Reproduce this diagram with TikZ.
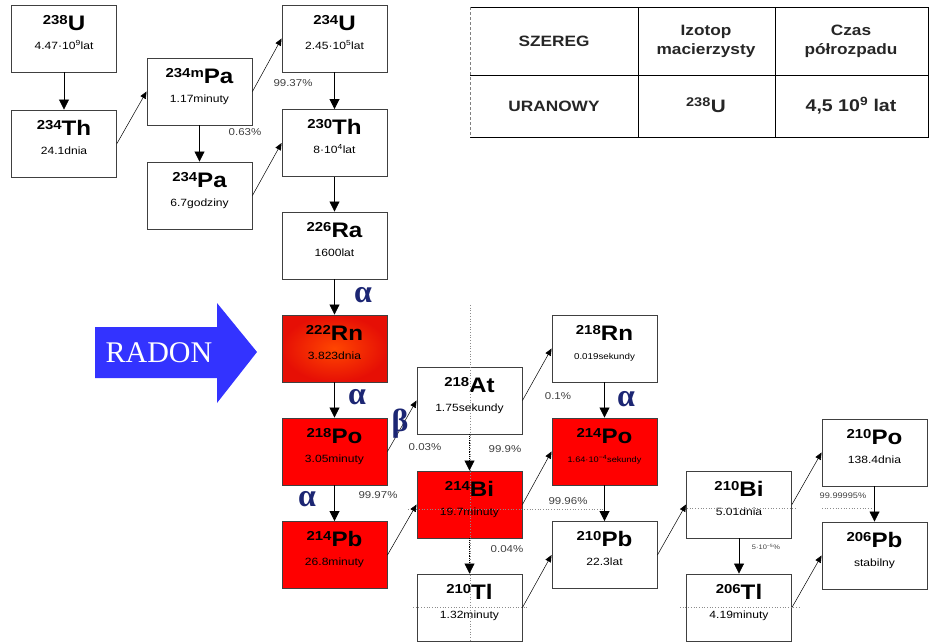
\documentclass[tikz,border=0pt]{standalone}
\usepackage{fontspec}
\setmainfont{Liberation Sans}[FakeStretch=1.15]
\newfontfamily\radonfont{Liberation Serif}
\usetikzlibrary{arrows.meta}
\definecolor{radonblue}{RGB}{51,51,255}
\definecolor{alphablue}{RGB}{28,38,115}
\definecolor{boxred}{RGB}{255,0,0}
\definecolor{rnin}{RGB}{255,70,0}
\definecolor{rnout}{RGB}{230,15,5}
\newcommand*{\xMax}{930}
\newcommand*{\yMax}{641}
\newcommand{\nuc}[3]{{\fontsize{13}{13}\selectfont\bfseries\raisebox{6pt}{#1}}{\fontsize{21}{21}\selectfont\bfseries #2}\\[7pt]#3}
\tikzset{
  box/.style={draw=black!75,line width=0.9pt,fill=white,minimum width=105pt,minimum height=67pt,
    inner sep=0pt,align=center,font=\fontsize{10.5}{12}\selectfont,text depth=13pt},
  redbox/.style={box,fill=boxred},
  rnbox/.style={box,inner color=rnin,outer color=rnout},
  vto/.style={-{Triangle[width=10pt,length=10pt]},line width=0.8pt},
  dto/.style={-{Triangle[width=6pt,length=7pt]},line width=0.5pt},
  pct/.style={font=\fontsize{10}{10}\selectfont,text=black!75,inner sep=0pt},
  dec/.style={font=\radonfont\bfseries\fontsize{32}{32}\selectfont,text=alphablue,inner sep=0pt},
  guide/.style={black!45,dotted,line width=0.7pt},
  cell/.style={font=\fontsize{15}{19}\selectfont\bfseries,align=center,text=black!85}
}
\begin{document}
\begin{tikzpicture}[x=1pt,y=-1pt]
\useasboundingbox (0,0) rectangle (\xMax,\yMax);
\clip (0,0) rectangle (\xMax,\yMax);

% tabela
\draw[line width=1pt] (470,7) -- (928,7) -- (928,137) -- (470,137);
\draw[black!50,densely dashed] (470,7) -- (470,137);
\draw[line width=1pt] (638,7) -- (638,137) (775,7) -- (775,137) (470,75) -- (928,75);
\node[cell] (szereg) at (554,41) {SZEREG};
\node[cell] (izotop) at (706,41) {Izotop\\macierzysty};
\node[cell] (czas) at (851,41) {Czas\\półrozpadu};
\node[cell] (uranowy) at (554,106) {URANOWY};
\node[cell,font=\fontsize{18}{18}\selectfont\bfseries] (u238t) at (706,105) {\textsuperscript{238}U};
\node[cell,font=\fontsize{17}{17}\selectfont\bfseries] (tpol) at (851,106) {4,5 10\textsuperscript{9} lat};

% strzalka RADON
\fill[radonblue] (95,327) -- (217,327) -- (217,303) -- (257,352) -- (217,403) -- (217,378) -- (95,378) -- cycle;
\node[text=white,font=\radonfont\fontsize{30}{30}\selectfont] (radon) at (159,353) {RADON};

% izotopy
\foreach \nm/\x/\y/\st/\m/\el/\t in {
    U238/64/38.5/box/238/U/{4.47·10\textsuperscript{9}lat},
    Th234/64/143.5/box/234/Th/{24.1dnia},
    Pa234m/199.5/91.5/box/234m/Pa/{1.17minuty},
    Pa234/199.5/195.5/box/234/Pa/{6.7godziny},
    U234/334.5/38.5/box/234/U/{2.45·10\textsuperscript{5}lat},
    Th230/334.5/143/box/230/Th/{8·10\textsuperscript{4}lat},
    Ra226/334.5/245.5/box/226/Ra/{1600lat},
    Rn222/334.5/348.5/rnbox/222/Rn/{3.823dnia},
    Po218/334.5/451.5/redbox/218/Po/{3.05minuty},
    Pb214/334.5/555/redbox/214/Pb/{26.8minuty},
    At218/469.5/400.5/box/218/At/{1.75sekundy},
    Bi214/469.5/504.5/redbox/214/Bi/{19.7minuty},
    Tl210/469.5/607.5/box/210/Tl/{1.32minuty},
    Rn218/604.5/348.5/box/218/Rn/{\fontsize{8.5}{8.5}\selectfont 0.019sekundy},
    Po214/604.5/451.5/redbox/214/Po/{\fontsize{8}{8}\selectfont 1.64·10\textsuperscript{−4}sekundy},
    Pb210/604.5/555/box/210/Pb/{22.3lat},
    Bi210/739/504.5/box/210/Bi/{5.01dnia},
    Tl206/739/607.5/box/206/Tl/{4.19minuty},
    Po210/874.5/452.5/box/210/Po/{138.4dnia},
    Pb206/874.5/555.5/box/206/Pb/{stabilny}}
  \node[\st] (\nm) at (\x,\y) {\nuc{\m}{\el}{\t}};

% linie pomocnicze
\draw[guide] (470,305) -- (470,641);
\draw[guide] (408,509) -- (603,509);
\draw[guide] (687,508) -- (797,508) (822,508) -- (873,508);
\draw[guide] (413,607) -- (527,607) (680,607) -- (800,607);

% rozpady pionowe
\foreach \a/\b in {U238/Th234,Pa234m/Pa234,U234/Th230,Th230/Ra226,Ra226/Rn222,Rn222/Po218,
    Po218/Pb214,Rn218/Po214,Po214/Pb210,Bi210/Tl206,Po210/Pb206}
  \draw[vto] (\a.south) -- (\b.north);
\draw[vto,densely dotted] (At218.south) -- (Bi214.north);
\draw[vto,densely dotted] (Bi214.south) -- (Tl210.north);

% rozpady ukosne
\foreach \a/\b in {Th234/Pa234m,Pa234m/U234,Pa234/Th230,Po218/At218,Pb214/Bi214,At218/Rn218,
    Bi214/Po214,Tl210/Pb210,Pb210/Bi210,Bi210/Po210,Tl206/Pb206}
  \draw[dto] (\a.east) -- (\b.west);

% opisy
\node[pct] (p063) at (245,132) {0.63\%};
\node[pct] (p9937) at (293,83) {99.37\%};
\node[pct] (p003) at (425,447) {0.03\%};
\node[pct] (p999) at (505,449) {99.9\%};
\node[pct] (p01) at (558,396) {0.1\%};
\node[pct] (p9997) at (378,495) {99.97\%};
\node[pct] (p9996) at (568,501) {99.96\%};
\node[pct] (p004) at (507,549) {0.04\%};
\node[pct,font=\fontsize{8}{8}\selectfont] (p99999) at (843,496) {99.99995\%};
\node[pct,font=\fontsize{6.5}{6.5}\selectfont] (p5e5) at (766,547) {5·10\textsuperscript{−5}\%};

\node[dec] (a1) at (363,295) {α};
\node[dec] (a2) at (357,397) {α};
\node[dec] (a3) at (307,499) {α};
\node[dec] (a4) at (626,399) {α};
\node[dec] (b1) at (400,424) {β};
\end{tikzpicture}
\end{document}
